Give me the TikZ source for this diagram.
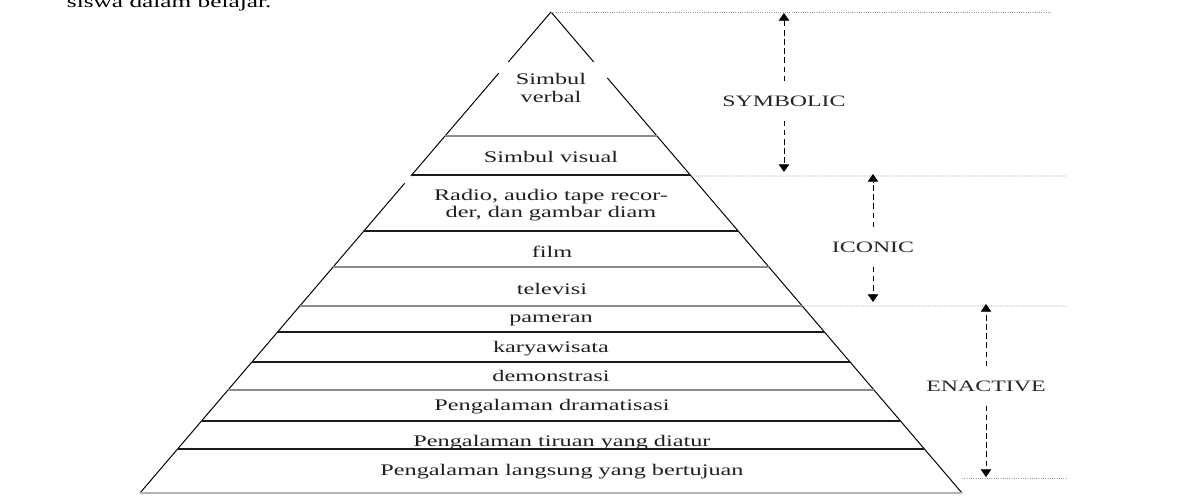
\documentclass[tikz,border=0pt]{standalone}
\usepackage{fontspec}
\setmainfont{Liberation Serif}[FakeStretch=1.5]
\usetikzlibrary{calc}
\usetikzlibrary{arrows.meta}

\begin{document}
\begin{tikzpicture}[x=0.025cm, y=-0.025cm]
  \tikzset{layer/.style={font=\fontsize{11.5}{12.5}\selectfont, text=black!88, inner sep=0pt, align=center} }
  \tikzset{level/.style={font=\fontsize{11.3}{12.5}\selectfont, text=black!85, inner xsep=1pt, inner ysep=10pt} }
  \tikzset{band/.style={line width=1.1pt, black!90} }
  \tikzset{thinband/.style={line width=0.8pt, black!45} }
  \tikzset{guide/.style={gray!80, line width=0.6pt, dash pattern=on 0.7pt off 0.9pt} }
  \tikzset{span/.style={->, >={Triangle[length=5.5pt,width=7.5pt]}, line width=0.6pt, dash pattern=on 4pt off 2.5pt} }

  \clip (0,0) rectangle (1180,498);

  \node[anchor=base west, font=\fontsize{12}{13}\selectfont] (body) at (62,7.5) {siswa dalam belajar.};

  % pyramid outline
  \coordinate (apex) at (551,12);
  \coordinate (bl) at (140,493);
  \coordinate (br) at (962,493);
  \draw[line width=0.7pt] (apex) -- ($(apex)!0.104!(bl)$);
  \draw[line width=0.7pt] ($(apex)!0.127!(bl)$) -- ($(apex)!0.341!(bl)$);
  \draw[line width=0.7pt] ($(apex)!0.356!(bl)$) -- (bl);
  \draw[line width=0.7pt] (apex) -- ($(apex)!0.104!(br)$);
  \draw[line width=0.7pt] ($(apex)!0.137!(br)$) -- (br);
  \draw[thinband, black!30] (bl) -- (br);

  % bands
  \foreach \yy/\sty in {136/thinband,175/band,231/band,267/thinband,306/thinband,332/band,362/band,390/thinband,421/band,449/band}
    \draw[\sty] ($(apex)!{(\yy-12)/481}!(bl)$) -- ($(apex)!{(\yy-12)/481}!(br)$);

  \node[layer] (verbal) at (551,88) {Simbul\\verbal};
  \node[layer, anchor=base] (visual) at (551,163) {Simbul visual};
  \node[layer] (radio) at (551,205) {Radio, audio tape recor-\\der, dan gambar diam};
  \node[layer, anchor=base] (film) at (552,258) {film};
  \node[layer, anchor=base] (tv) at (552,295) {televisi};
  \node[layer, anchor=base] (pameran) at (551,323) {pameran};
  \node[layer, anchor=base] (karya) at (551,353) {karyawisata};
  \node[layer, anchor=base] (demo) at (551,382) {demonstrasi};
  \node[layer, anchor=base] (drama) at (552,411) {Pengalaman dramatisasi};
  \node[layer, anchor=base] (tiruan) at (562,447) {Pengalaman tiruan yang diatur};
  \node[layer, anchor=base] (langsung) at (562,476) {Pengalaman langsung yang bertujuan};

  % dotted guides
  \coordinate (g1) at (1052,12);
  \coordinate (s2) at ($(apex)!{(176-12)/481}!(br)$);
  \coordinate (g2) at (1067,176);
  \coordinate (s3) at ($(apex)!{(306-12)/481}!(br)$);
  \coordinate (g3) at (1067,306);
  \coordinate (s4) at (962,478);
  \coordinate (g4) at (1067,478);
  \draw[guide] (apex) -- (g1);
  \draw[guide] (s2) -- (g2);
  \draw[guide] (s3) -- (g3);
  \draw[guide] (s4) -- (g4);

  % levels
  \node[level] (symbolic) at (784,101) {SYMBOLIC};
  \coordinate (symtop) at (784,13);
  \coordinate (symbot) at (784,172);
  \draw[span] (symbolic) -- (symtop);
  \draw[span] (symbolic) -- (symbot);

  \node[level] (iconic) at (873,247) {ICONIC};
  \coordinate (icotop) at (873,174);
  \coordinate (icobot) at (873,302);
  \draw[span] (iconic) -- (icotop);
  \draw[span] (iconic) -- (icobot);

  \node[level] (enactive) at (986,386) {ENACTIVE};
  \coordinate (enatop) at (986,304);
  \coordinate (enabot) at (986,477);
  \draw[span] (enactive) -- (enatop);
  \draw[span] (enactive) -- (enabot);
\end{tikzpicture}
\end{document}
